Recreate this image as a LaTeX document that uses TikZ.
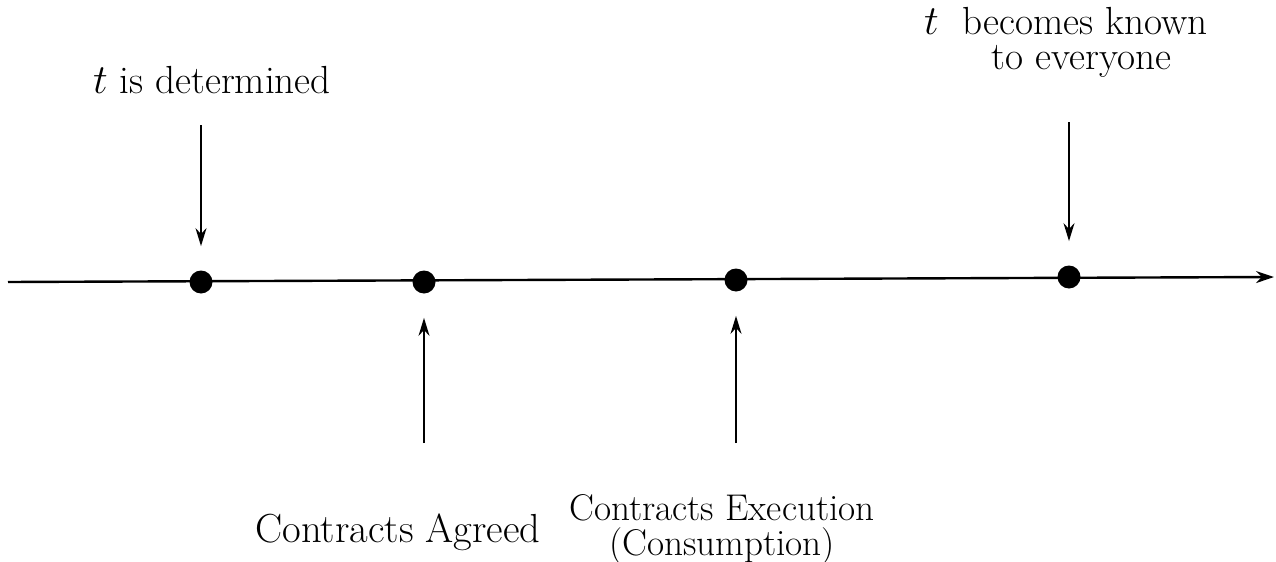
\documentclass[tikz,border=0pt]{standalone}
\usetikzlibrary{arrows.meta}
\begin{document}
\begin{tikzpicture}[x=0.5pt,y=-0.5pt,
  dot/.style={circle,fill=black,inner sep=0pt,minimum size=11.5pt},
  lab/.style={align=center,inner sep=0pt},
  axis/.style={line width=1.2pt,-{Stealth[length=9pt,width=6pt]}},
  pointer/.style={line width=0.8pt,-{Stealth[length=9pt,width=5.5pt]}}]
\useasboundingbox (0,0) rectangle (1276,562);
% timeline
\coordinate (start) at (8,282);
\coordinate (end) at (1274,277);
\draw[axis] (start) -- (end);
% dots
\node[dot] (d1) at (201,282) {};
\node[dot] (d2) at (424,282) {};
\node[dot] (d3) at (736,280) {};
\node[dot] (d4) at (1069,277) {};
% labels
\node[lab,font=\fontsize{19.6}{21}\selectfont] (l1) at (212,80) {$t$ is determined};
\node[lab,font=\fontsize{19.6}{17.5}\selectfont] (l4) at (1066,42) {$t$\ \ becomes known\\\hspace*{15.5pt}to everyone};
\node[lab,font=\fontsize{20.3}{21}\selectfont] (l2) at (398,532) {Contracts Agreed};
\node[lab,font=\fontsize{18.6}{17.5}\selectfont] (l3) at (722,530) {Contracts Execution\\(Consumption)};
% arrow tails
\coordinate (a1) at (201,125);
\coordinate (a4) at (1069,122);
\coordinate (a2) at (424,443);
\coordinate (a3) at (736,443);
\draw[pointer] (a1) -- ([yshift=12pt]d1.north);
\draw[pointer] (a4) -- ([yshift=12pt]d4.north);
\draw[pointer] (a2) -- ([yshift=-12pt]d2.south);
\draw[pointer] (a3) -- ([yshift=-12pt]d3.south);
\end{tikzpicture}
\end{document}
